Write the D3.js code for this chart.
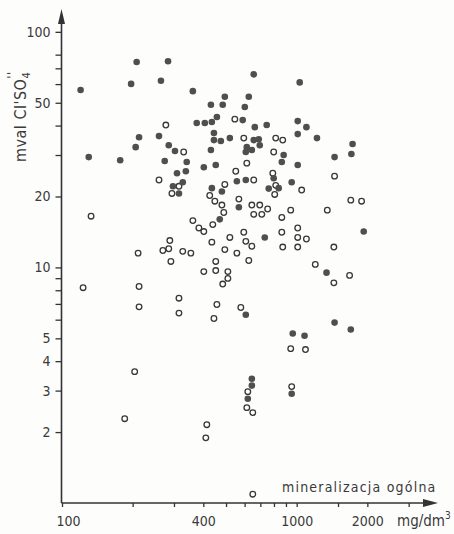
<!DOCTYPE html>
<html>
<head>
<meta charset="utf-8">
<script src="https://cdn.jsdelivr.net/npm/d3@7"></script>
<style>
    body { margin: 0; background: #fdfdfc; }
    text { font-family: "Liberation Sans Narrow", "DejaVu Sans Condensed", sans-serif; fill: #3a3a3a; }
</style>
</head>
<body>
<div id="chart"></div>
<script>
// [mineralizacja mg/dm3, mval Cl'SO4'']
const filled = [
    [283, 75], [656, 66], [264, 62], [1030, 61], [361, 56], [494, 53], [625, 53], [431, 49], [484, 49],
    [601, 48], [457, 43.5], [375, 41], [406, 41], [435, 41.4], [589, 42.2], [663, 39.4], [745, 40.2],
    [1010, 41.8], [259, 36.1], [444, 37.2], [444, 34.7], [475, 34.4], [519, 35.4], [656, 34.7], [689, 35],
    [1010, 36.8], [285, 33], [303, 31.2], [431, 31.5], [613, 32.4], [607, 30.9], [644, 31.5], [696, 33],
    [880, 30], [274, 28.3], [340, 28], [402, 26.6], [452, 27.2], [864, 28], [1010, 27.2], [309, 25.1],
    [337, 25.6], [798, 23.9], [297, 22.1], [327, 23], [435, 21.7], [556, 23.2], [607, 23.5], [838, 21.7],
    [952, 23], [760, 21.6], [315, 20.6], [480, 21], [567, 18], [470, 16], [731, 13.4], [607, 6.3],
    [1930, 14.2], [1340, 9.5], [1450, 5.83], [1700, 5.45], [208, 74.5], [120, 56.6], [197, 60.1],
    [213, 35.7], [206, 32.4], [130, 29.4], [177, 28.5], [1100, 39.4], [1220, 35.4], [1730, 33.4],
    [1710, 30.3], [1450, 29.4], [962, 5.24], [1080, 5.13], [644, 3.37], [644, 3.15], [619, 2.77], [952, 2.91]
]
const open = [
    [277, 40.2], [545, 42.6], [595, 35.4], [814, 35.4], [872, 34.7], [330, 30.9], [798, 30.9], [613, 27.7],
    [550, 25.6], [791, 25.1], [259, 23.5], [315, 22.1], [494, 22.5], [656, 23.5], [814, 22.3], [294, 20.6],
    [426, 20.2], [806, 20.4], [448, 19.1], [480, 18.4], [567, 19.5], [489, 17.1], [644, 18.4], [696, 18.4],
    [656, 16.8], [710, 16.8], [752, 17.7], [943, 17.5], [864, 16.3], [361, 15.8], [439, 15.2], [383, 14.7],
    [402, 14.2], [595, 14.1], [864, 14.1], [1010, 14.7], [1010, 13.4], [288, 13], [435, 12.8], [519, 13.4],
    [607, 12.9], [644, 12.3], [872, 12.2], [1010, 12.2], [285, 12], [269, 11.8], [327, 11.7], [354, 11.5],
    [494, 11.9], [556, 11.5], [291, 10.6], [452, 10.6], [625, 10.7], [402, 9.6], [452, 9.7], [509, 9.6],
    [509, 8.98], [484, 8.5], [315, 7.4], [457, 6.96], [578, 6.76], [315, 6.4], [444, 6.07], [1050, 21.3],
    [1700, 19.3], [1890, 19.1], [1350, 17.5], [1100, 13.2], [1440, 12.2], [1200, 10.3], [1680, 9.25],
    [1440, 8.6], [1450, 24.4], [133, 16.5], [211, 11.5], [123, 8.2], [213, 8.3], [213, 6.8], [204, 3.61],
    [185, 2.28], [943, 4.52], [619, 2.97], [613, 2.54], [650, 2.42], [952, 3.12], [414, 2.15], [410, 1.89],
    [1090, 4.48], [650, 1.09]
]
const xTicks = [100, 200, 300, 400, 500, 600, 700, 800, 900, 1000, 1500, 2000, 3000]
const xLabels = [100, 400, 1000, 2000]
const yTicks = [2, 3, 4, 5, 6, 7, 8, 9, 10, 20, 30, 40, 50, 60, 70, 80, 100]
const yLabels = [2, 3, 4, 5, 10, 20, 50, 100]

const width = 454, height = 534
const ink = '#333'
const svg = d3.select('#chart').append('svg').attr('width', width).attr('height', height)

const x = d3.scaleLog().domain([100, 4000]).range([62, 438])
const y = d3.scaleLog().domain([1, 125]).range([503, 9])

// axes
const xAxis = svg.append('g').attr('transform', `translate(0,${y(1)})`).
    call(d3.axisBottom(x).tickValues(xTicks).tickSize(4).tickSizeOuter(0).
        tickFormat((d) => xLabels.includes(d) ? d : ''))
xAxis.select('.domain').remove()
xAxis.selectAll('line').attr('stroke', ink).attr('stroke-width', 1.3)
xAxis.selectAll('text').attr('y', 13).attr('font-size', 14).attr('fill', '#3a3a3a')
xAxis.selectAll('.tick').filter((d) => d === 100).select('text').attr('x', 6)

const yAxis = svg.append('g').attr('transform', `translate(${x(100) - 0.5},0)`).
    call(d3.axisLeft(y).tickValues(yTicks).tickSize(6).tickSizeOuter(0).tickPadding(5).
        tickFormat((d) => yLabels.includes(d) ? d : ''))
yAxis.select('.domain').remove()
yAxis.selectAll('line').attr('stroke', ink).attr('stroke-width', 1.3)
yAxis.selectAll('text').attr('font-size', 14).attr('fill', '#3a3a3a')

const x0 = x(100) - 0.5, y0 = y(1), xEnd = x.range()[1], yEnd = y.range()[1]
svg.append('path').attr('d', `M${x0},${y0}H${xEnd - 10}M${x0},${y0}V${yEnd + 10}`).
    attr('stroke', ink).attr('stroke-width', 1.6).attr('fill', 'none')
svg.append('path').attr('d', `M${xEnd - 15},${y0 - 4}L${xEnd},${y0}L${xEnd - 15},${y0 + 4}Z`).attr('fill', ink)
svg.append('path').attr('d', `M${x0 - 3.5},${yEnd + 15}L${x0},${yEnd}L${x0 + 3.5},${yEnd + 15}Z`).attr('fill', ink)

// titles
const unit = svg.append('text').attr('x', 397).attr('y', y0 + 23).attr('font-size', 15).text('mg/dm')
unit.append('tspan').attr('dy', -7).attr('font-size', 10).text('3')

svg.append('text').attr('x', 282).attr('y', y0 - 11).attr('font-size', 14).
    attr('letter-spacing', 1.2).text('mineralizacja  ogólna')

const ytitle = svg.append('text').attr('transform', 'translate(26,162) rotate(-90)').attr('font-size', 16).
    attr('letter-spacing', 0.5).text('mval  Cl\'SO')
ytitle.append('tspan').attr('dy', 4).attr('font-size', 11).text('4')
ytitle.append('tspan').attr('dx', -7).attr('dy', -14).attr('font-size', 13).text('\'\'')

// points
svg.append('g').selectAll('circle').
    data(open).
    enter().
    append('circle').
    attr('cx', (d) => x(d[0])).
    attr('cy', (d) => y(d[1])).
    attr('r', 2.8).
    attr('fill', '#fff').
    attr('stroke', '#383838').
    attr('stroke-width', 1.3)

svg.append('g').selectAll('circle').
    data(filled).
    enter().
    append('circle').
    attr('cx', (d) => x(d[0])).
    attr('cy', (d) => y(d[1])).
    attr('r', 3.3).
    attr('fill', '#4f4f4f')
</script>
</body>
</html>
